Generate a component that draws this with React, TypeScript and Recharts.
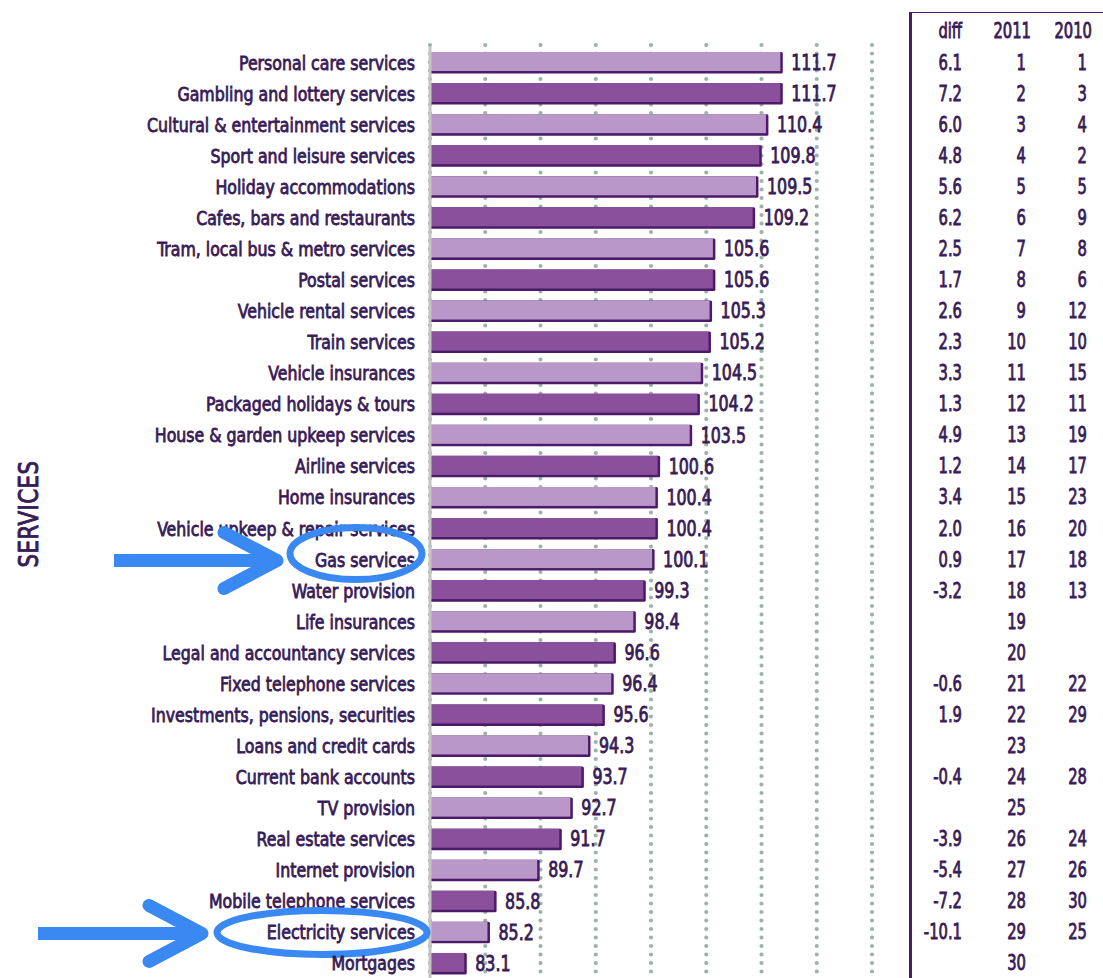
import React from 'react';
import { BarChart, Bar, XAxis, YAxis, CartesianGrid, LabelList } from 'recharts';

const categories = [
  'Personal care services',
  'Gambling and lottery services',
  'Cultural & entertainment services',
  'Sport and leisure services',
  'Holiday accommodations',
  'Cafes, bars and restaurants',
  'Tram, local bus & metro services',
  'Postal services',
  'Vehicle rental services',
  'Train services',
  'Vehicle insurances',
  'Packaged holidays & tours',
  'House & garden upkeep services',
  'Airline services',
  'Home insurances',
  'Vehicle upkeep & repair services',
  'Gas services',
  'Water provision',
  'Life insurances',
  'Legal and accountancy services',
  'Fixed telephone services',
  'Investments, pensions, securities',
  'Loans and credit cards',
  'Current bank accounts',
  'TV provision',
  'Real estate services',
  'Internet provision',
  'Mobile telephone services',
  'Electricity services',
  'Mortgages',
];

const values = [
  111.7, 111.7, 110.4, 109.8, 109.5, 109.2, 105.6, 105.6, 105.3, 105.2,
  104.5, 104.2, 103.5, 100.6, 100.4, 100.4, 100.1, 99.3, 98.4, 96.6,
  96.4, 95.6, 94.3, 93.7, 92.7, 91.7, 89.7, 85.8, 85.2, 83.1,
];

const diffs = [
  '6.1', '7.2', '6.0', '4.8', '5.6', '6.2', '2.5', '1.7', '2.6', '2.3',
  '3.3', '1.3', '4.9', '1.2', '3.4', '2.0', '0.9', '-3.2', '', '',
  '-0.6', '1.9', '', '-0.4', '', '-3.9', '-5.4', '-7.2', '-10.1', '',
];

const rank2011 = [
  '1', '2', '3', '4', '5', '6', '7', '8', '9', '10',
  '11', '12', '13', '14', '15', '16', '17', '18', '19', '20',
  '21', '22', '23', '24', '25', '26', '27', '28', '29', '30',
];

const rank2010 = [
  '1', '3', '4', '2', '5', '9', '8', '6', '12', '10',
  '15', '11', '19', '17', '23', '20', '18', '13', '', '',
  '22', '29', '', '28', '', '24', '26', '30', '25', '',
];

const tableHeaders = ['diff', '2011', '2010'];
const xDomain = [80, 120];
const xTicks = [80, 85, 90, 95, 100, 105, 110, 115, 120];
const highlighted = ['Gas services', 'Electricity services'];
const axisTitle = 'SERVICES';

const data = categories.map((name, i) => ({ name, value: values[i] }));

const FONT = "'DejaVu Sans Condensed', 'Liberation Sans Narrow', sans-serif";
const TEXT = '#381b57';
const LIGHT = '#b998c9';
const DARK = '#8b509b';
const EDGE = '#4b1a68';
const BLUE = '#3a88f2';
const GRID = '#9fb2aa';
const SX = 0.9;

const annot: Record<string, { cx: number; dy: number; rx: number; ry: number; x0: number; tip: number }> = {
  'Gas services': { cx: 356, dy: -6, rx: 66, ry: 26, x0: 114, tip: 277 },
  'Electricity services': { cx: 322, dy: 0, rx: 105, ry: 22, x0: 38, tip: 202 },
};

const NarrowText = ({ x, y, children, size = 19.5, sx = SX, anchor = 'end' }: any) => (
  <text
    transform={`translate(${x},${y}) scale(${sx},1)`}
    x={0}
    y={0}
    dy={7}
    textAnchor={anchor}
    fontFamily={FONT}
    fontSize={size}
    fill={TEXT}
    stroke={TEXT}
    strokeWidth={0.8}
  >
    {children}
  </text>
);

const LeftTick = (props: any) => {
  const { x, y, payload } = props;
  const name = payload.value as string;
  const a = highlighted.includes(name) ? annot[name] : null;
  return (
    <g>
      <NarrowText x={x} y={y}>{name}</NarrowText>
      {a && (
        <g fill="none" stroke={BLUE} strokeLinecap="round" strokeLinejoin="round">
          <ellipse cx={a.cx} cy={y + a.dy} rx={a.rx} ry={a.ry} strokeWidth={7} />
          <line x1={a.x0} y1={y + 1} x2={a.tip - 8} y2={y + 1} strokeWidth={13} strokeLinecap="butt" />
          <polyline points={`${a.tip - 53},${y - 27} ${a.tip},${y + 1} ${a.tip - 53},${y + 29}`} strokeWidth={13} />
        </g>
      )}
    </g>
  );
};

const RightTick = (props: any) => {
  const { x, y, payload } = props;
  const i = payload.index as number;
  const cols = [x + 90, x + 154, x + 215];
  const row = [diffs[i], rank2011[i], rank2010[i]];
  return (
    <g>
      {i === 0 &&
        tableHeaders.map((h, k) => (
          <NarrowText key={'h' + k} x={cols[k] + (k === 0 ? 0 : 5)} y={y - 32} size={20.5} sx={0.8}>
            {h}
          </NarrowText>
        ))}
      {row.map((v, k) => (
        <NarrowText key={k} x={cols[k]} y={y} size={20.5} sx={0.8}>
          {v}
        </NarrowText>
      ))}
    </g>
  );
};

const BarShape = (props: any) => {
  const { x, y, width, height, index } = props;
  if (!width || width <= 0) return null;
  const fill = index % 2 === 0 ? LIGHT : DARK;
  return (
    <g>
      <rect x={x} y={y} width={width + 2.5} height={height} fill={EDGE} rx={1.5} />
      <rect x={x} y={y} width={width} height={height - 2.5} fill={fill} />
    </g>
  );
};

const ValueLabel = (props: any) => {
  const { x, y, width, height, value } = props;
  return (
    <NarrowText x={x + width + 11} y={y + height / 2} anchor="start" size={20.5} sx={0.86}>
      {Number(value).toFixed(1)}
    </NarrowText>
  );
};

const GridLine = (props: any) => {
  const { x1, y1, x2, y2 } = props;
  return (
    <line
      x1={x1}
      y1={y1 - 2}
      x2={x2}
      y2={y2}
      stroke={GRID}
      strokeWidth={4.2}
      strokeDasharray="0 8.5"
      strokeLinecap="round"
    />
  );
};

const gridGenerator = (args: any) => {
  const xAxis = args?.xAxis;
  if (xAxis && typeof xAxis.scale === 'function') {
    return xTicks.map((t) => xAxis.scale(t));
  }
  const off = args?.offset ?? { left: 430, width: 442 };
  return xTicks.map((t) => off.left + ((t - xDomain[0]) / (xDomain[1] - xDomain[0])) * off.width);
};

const EmptyTick = () => <g />;

export default function App() {
  return (
    <div style={{ position: 'absolute', left: 0, top: 0, width: 1103, height: 978, overflow: 'hidden', background: '#fff' }}>
      <BarChart
        width={1103}
        height={990}
        data={data}
        layout="vertical"
        margin={{ top: 47, right: 0, bottom: 11, left: 0 }}
        barSize={21.5}
      >
        <CartesianGrid horizontal={false} vertical={GridLine} verticalCoordinatesGenerator={gridGenerator} />
        <XAxis type="number" domain={xDomain} ticks={xTicks} allowDataOverflow height={0} axisLine={false} tickLine={false} tick={EmptyTick} />
        <YAxis
          yAxisId="left"
          type="category"
          dataKey="name"
          width={430}
          tickSize={0}
          tickMargin={15}
          tick={LeftTick}
          interval={0}
          axisLine={{ stroke: '#c4c4c4', strokeWidth: 3 }}
          tickLine={false}
        />
        <YAxis
          yAxisId="right"
          orientation="right"
          type="category"
          dataKey="name"
          width={231}
          tickSize={0}
          tickMargin={0}
          tick={RightTick}
          interval={0}
          axisLine={false}
          tickLine={false}
        />
        <Bar yAxisId="left" dataKey="value" shape={BarShape} isAnimationActive={false}>
          <LabelList dataKey="value" content={ValueLabel} />
        </Bar>
      </BarChart>
      <div style={{ position: 'absolute', left: 909, top: 12, width: 200, height: 1000, borderLeft: `3px solid ${EDGE}`, borderTop: `1.5px solid ${EDGE}` }} />
      <div
        style={{
          position: 'absolute',
          left: 28,
          top: 514,
          transform: 'translate(-50%, -50%) rotate(-90deg) scaleX(0.88)',
          fontFamily: FONT,
          fontSize: 27,
          color: TEXT,
          letterSpacing: 0.5,
          whiteSpace: 'nowrap',
          WebkitTextStroke: `0.9px ${TEXT}`,
        }}
      >
        {axisTitle}
      </div>
    </div>
  );
}
